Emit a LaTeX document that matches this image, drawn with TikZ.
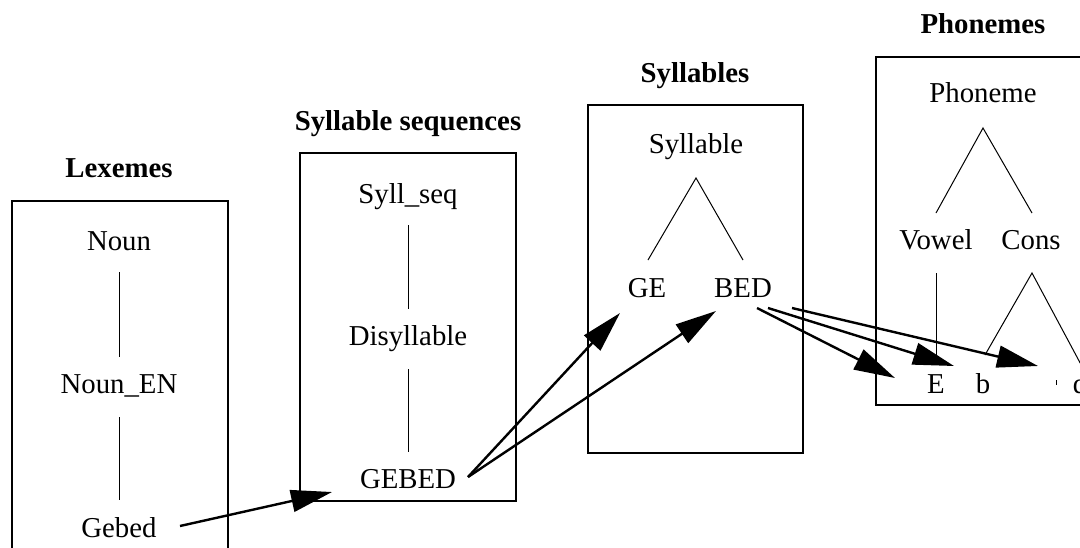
\documentclass[tikz,border=0pt]{standalone}
\usepackage{fontspec}
\setmainfont{Liberation Serif}
\usetikzlibrary{arrows.meta}
\begin{document}
\begin{tikzpicture}[x=1pt,y=-1pt,
  word/.style={font=\fontsize{28.8}{34}\selectfont, inner sep=0pt, anchor=base},
  heading/.style={word, font=\fontsize{28.8}{34}\selectfont\bfseries},
  panel/.style={draw, line width=1.2pt},
  stem/.style={line width=1pt},
  maparrow/.style={line width=2.4pt, -{Triangle[length=41pt,width=22pt]}}]
\useasboundingbox (0,0) rectangle (1080,547);
\clip (0,0) rectangle (1080,547);

% frames of the four levels
\draw[panel] (12,201) rectangle (228,580);
\draw[panel] (300,153) rectangle (516,501);
\draw[panel] (588,105) rectangle (803,453);
\draw[panel] (876,57) rectangle (1120,405);

% Lexemes
\node[heading] (lexemes) at (119,177) {Lexemes};
\node[word] (noun) at (119,250) {Noun};
\node[word] (nounen) at (119,393) {Noun\_EN};
\node[word] (lexgebed) at (119,537) {Gebed};
\draw[stem] ([shift={(0,22)}]noun.base) -- ([shift={(0,-36)}]nounen.base);
\draw[stem] ([shift={(0,24)}]nounen.base) -- ([shift={(0,-37)}]lexgebed.base);

% Syllable sequences
\node[heading] (sylseqs) at (408,130) {Syllable sequences};
\node[word] (syllseq) at (408,203) {Syll\_seq};
\node[word] (disyl) at (408,345) {Disyllable};
\node[word] (gebedseq) at (408,488) {GEBED};
\draw[stem] ([shift={(0,22)}]syllseq.base) -- ([shift={(0,-36)}]disyl.base);
\draw[stem] ([shift={(0,24)}]disyl.base) -- ([shift={(0,-36)}]gebedseq.base);

% Syllables
\node[heading] (syllables) at (695,82) {Syllables};
\node[word] (syllable) at (696,153) {Syllable};
\node[word] (ge) at (647,297) {GE};
\node[word] (bed) at (743,297) {BED};
\draw[stem] ([shift={(1,-37)}]ge.base) -- ([shift={(0,25)}]syllable.base)
  -- ([shift={(0,-37)}]bed.base);

% Phonemes
\node[heading] (phonemes) at (983,33) {Phonemes};
\node[word] (phoneme) at (983,102) {Phoneme};
\node[word] (vowel) at (936,249) {Vowel};
\node[word] (cons) at (1031,249) {Cons};
\node[word] (e) at (936,393) {E};
\node[word] (b) at (983,393) {b};
\node[word] (d) at (1080,393) {d};
\draw[stem] ([shift={(0,-36)}]vowel.base) -- ([shift={(0,26)}]phoneme.base)
  -- ([shift={(1,-36)}]cons.base);
\draw[stem] ([shift={(0,24)}]vowel.base) -- ([shift={(0,-38)}]e.base);
\draw[stem] ([shift={(2,-38)}]b.base) -- ([shift={(1,24)}]cons.base)
  -- ([shift={(5,-21)}]d.base);
\draw[stem] (1056,380) -- (1056,385);

% mappings between levels
\draw[maparrow] ([shift={(61,-11)}]lexgebed.base) -- ([shift={(-76,4)}]gebedseq.base);
\draw[maparrow] ([shift={(60,-11)}]gebedseq.base) -- ([shift={(-27,16)}]ge.base);
\draw[maparrow] ([shift={(60,-11)}]gebedseq.base) -- ([shift={(-27,14)}]bed.base);
\draw[maparrow] ([shift={(14,11)}]bed.base) -- ([shift={(-41,-15)}]e.base);
\draw[maparrow] ([shift={(25,11)}]bed.base) -- ([shift={(-29,-27)}]b.base);
\draw[maparrow] ([shift={(49,11)}]bed.base) -- ([shift={(-42,-27)}]d.base);
\end{tikzpicture}
\end{document}
